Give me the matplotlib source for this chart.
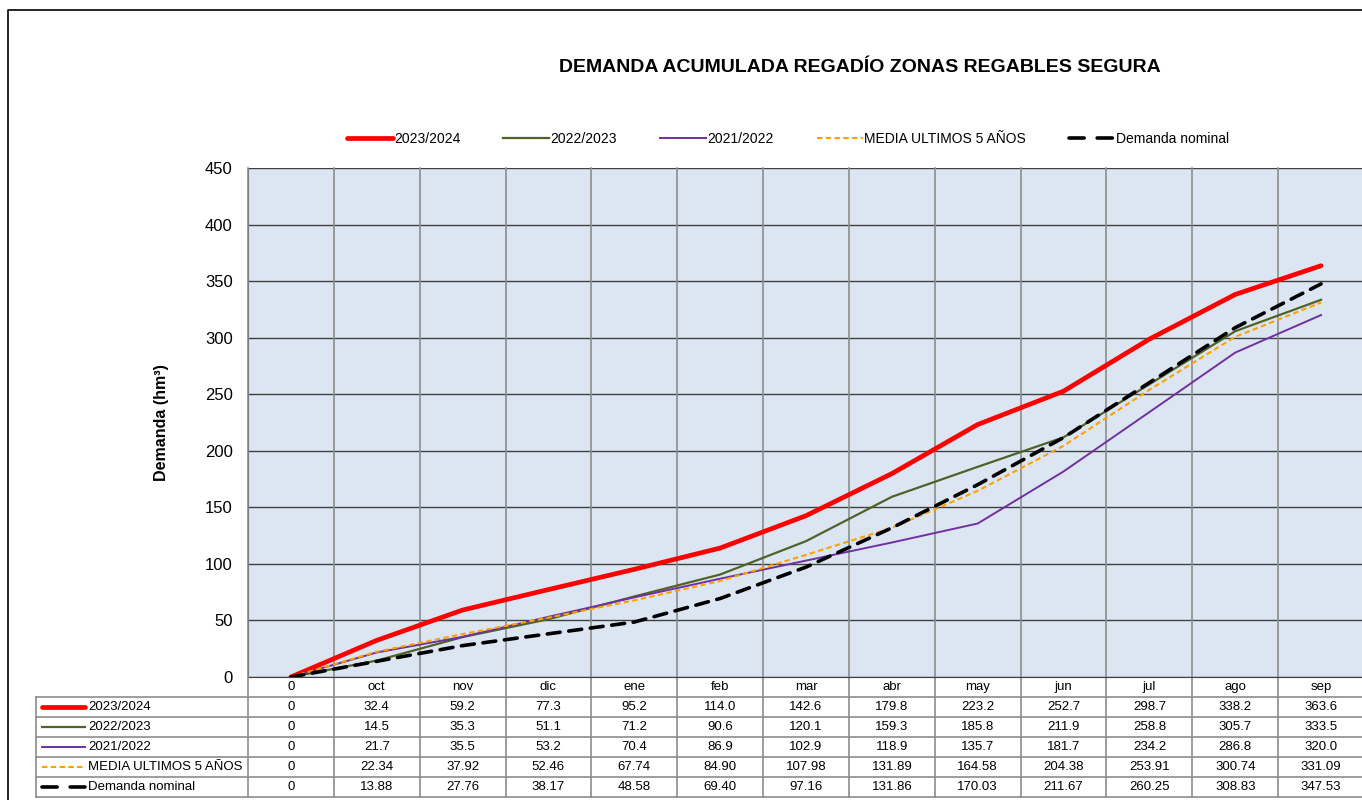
import numpy as np
import matplotlib
matplotlib.use('Agg')
import matplotlib.pyplot as plt
from matplotlib.lines import Line2D

plt.rcParams['font.family'] = ['Liberation Sans', 'DejaVu Sans']

## DATA ##########################
meses = ['0', 'oct', 'nov', 'dic', 'ene', 'feb', 'mar', 'abr', 'may', 'jun', 'jul', 'ago', 'sep']
d2324 = [0, 32.4, 59.2, 77.3, 95.2, 114.0, 142.6, 179.8, 223.2, 252.7, 298.7, 338.2, 363.6]
d2223 = [0, 14.5, 35.3, 51.1, 71.2, 90.6, 120.1, 159.3, 185.8, 211.9, 258.8, 305.7, 333.5]
d2122 = [0, 21.7, 35.5, 53.2, 70.4, 86.9, 102.9, 118.9, 135.7, 181.7, 234.2, 286.8, 320.0]
media = [0, 22.34, 37.92, 52.46, 67.74, 84.90, 107.98, 131.89, 164.58, 204.38, 253.91, 300.74, 331.09]
nominal = [0, 13.88, 27.76, 38.17, 48.58, 69.40, 97.16, 131.86, 170.03, 211.67, 260.25, 308.83, 347.53]
nombres = ['2023/2024', '2022/2023', '2021/2022', 'MEDIA ULTIMOS 5 AÑOS', 'Demanda nominal']
decimales = [1, 1, 1, 2, 2]
yticks = [0, 50, 100, 150, 200, 250, 300, 350, 400, 450]
##################################

series = [d2324, d2223, d2122, media, nominal]
estilos = [dict(color='#ff0000', lw=3.4, solid_capstyle='round'),
           dict(color='#4f6228', lw=1.6),
           dict(color='#7030a0', lw=1.4),
           dict(color='#ffa000', lw=1.5, ls=(0, (2.6, 1.6))),
           dict(color='black', lw=2.6, ls=(0, (3.6, 2.4)), dash_capstyle='round')]
# claves de leyenda: la nominal con dos trazos
claves = estilos[:4] + [dict(color='black', lw=2.6, ls=(0, (4.2, 3.6)), dash_capstyle='round')]

W, H = 1362, 800
fig = plt.figure(figsize=(W / 100, H / 100), dpi=100)
ax = fig.add_axes([248 / W, 1 - 677 / H, (1364 - 248) / W, (677 - 168) / H])
ax.set_facecolor('#dce6f2')

x = np.arange(len(meses))
for s, st in zip(series, estilos):
    ax.plot(x, s, zorder=3, **st)

ax.set_xlim(-0.5, len(meses) - 0.5)
ax.set_ylim(0, 450)
ax.set_yticks(yticks)
ax.set_xticks([])
ax.tick_params(axis='y', length=0, pad=11, labelsize=12)
ax.yaxis.grid(True, color='#404040', lw=1.0)
ax.set_axisbelow(True)
for sp in ['top', 'right']:
    ax.spines[sp].set_visible(False)
ax.spines['left'].set_color('#404040')
ax.spines['bottom'].set_color('#404040')

ax.set_ylabel('Demanda (hm³)', fontsize=11.5, fontweight='bold', labelpad=26)

## TABLA ##############
rh = 20 / (677 - 168)
nfil = len(series) + 1
unit = (1364 - 248) / len(meses)
izq = -0.5 - (248 - 36) / unit
trans = ax.get_xaxis_transform()
gris = '#8c8c8c'
ft = 9.5

# verticales (rejilla + tabla)
for b in np.arange(-0.5, len(meses), 1.0):
    ax.plot([b, b], [1, -nfil * rh], transform=trans, color=gris, lw=1.2,
            clip_on=False, zorder=1 if b > -0.5 else 4)
ax.plot([izq, izq], [-rh, -nfil * rh], transform=trans, color=gris, lw=1.2, clip_on=False)
for i in range(1, nfil + 1):
    ax.plot([izq, len(meses) - 0.5], [-i * rh, -i * rh], transform=trans,
            color=gris, lw=1.2, clip_on=False)

for j, m in enumerate(meses):
    ax.text(j, -0.5 * rh, m, transform=trans, ha='center', va='center', fontsize=ft)

for i, (s, st, nom, dec) in enumerate(zip(series, claves, nombres, decimales)):
    yc = -(i + 1.5) * rh
    x0 = izq + 6 / unit
    x1 = izq + 49 / unit
    ax.add_line(Line2D([x0, x1], [yc, yc], transform=trans, clip_on=False, **st))
    ax.text(izq + 52 / unit, yc, nom, transform=trans, ha='left', va='center', fontsize=ft)
    for j, v in enumerate(s):
        txt = '0' if v == 0 else f'{v:.{dec}f}'
        ax.text(j, yc, txt, transform=trans, ha='center', va='center', fontsize=ft)

## LEYENDA ############
handles = [Line2D([], [], **st) for st in claves]
fig.legend(handles, nombres, loc='center', bbox_to_anchor=(788 / W, 1 - 139 / H),
           ncol=5, frameon=False, fontsize=10, handlelength=3.3, handletextpad=0.1,
           columnspacing=3.1)

fig.text(860 / W, 1 - 68 / H, 'DEMANDA ACUMULADA REGADÍO ZONAS REGABLES SEGURA',
         ha='center', va='center', fontsize=14, fontweight='bold')

# marco del gráfico
fig.add_artist(Line2D([8 / W, 8 / W, 1.01], [0, 1 - 10 / H, 1 - 10 / H],
                      transform=fig.transFigure, color='black', lw=1.2))

fig.savefig('out.png', dpi=100)
